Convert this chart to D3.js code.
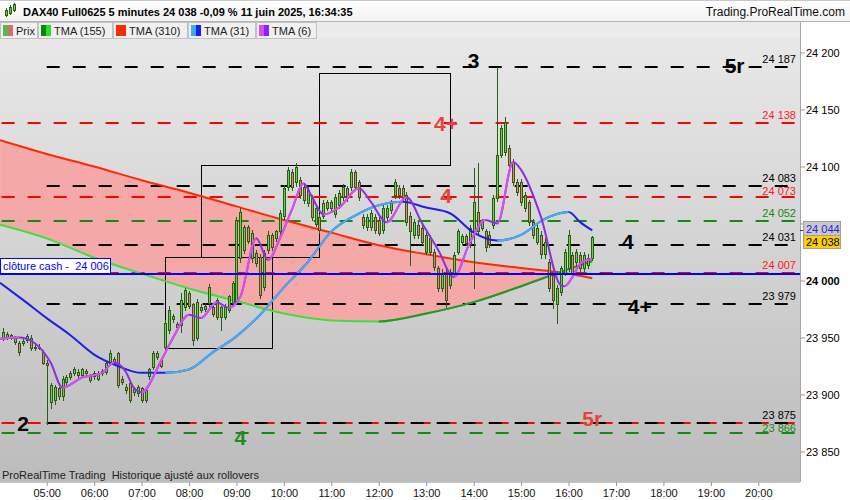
<!DOCTYPE html>
<html><head><meta charset="utf-8">
<script src="https://cdn.jsdelivr.net/npm/d3@7"></script>
<style>
body{margin:0;background:#fff;}
svg{display:block;font-family:"Liberation Sans",Arial,sans-serif;}
</style>
</head><body>
<svg id="c" width="850" height="500"></svg>
<script>
// ---------------- DATA ----------------
const barStartMinute = 245;   // 04:05
const barMinutes = 5;
const open = [23950,23950,23952,23946,23945,23945,23948,23950,23942,23941,
 23937,23928,23893,23895,23906,23899,23911,23919,23919,23920,
 23917,23921,23916,23916,23914,23919,23920,23928,23931,23936,
 23911,23907,23910,23902,23901,23906,23895,23916,23924,23933,
 23930,23942,23957,23966,23962,23961,23977,23989,23979,23950,
 23977,23975,23980,23977,23983,23968,23968,23974,23980,23981,
 24020,24027,24047,24020,24024,24021,23994,24027,24040,24037,
 24043,24057,24082,24095,24086,24088,24082,24068,24073,24050,
 24056,24057,24069,24064,24058,24066,24073,24081,24082,24095,
 24086,24056,24047,24047,24056,24053,24044,24056,24062,24075,
 24081,24081,24075,24057,24040,24049,24046,24025,24037,24025,
 24011,23993,24007,23996,24007,24025,24034,24039,24032,24043,
 24060,24046,24043,24040,24049,24072,24110,24113,24116,24104,
 24086,24086,24064,24069,24051,24034,24040,24023,24016,24005,
 23979,23990,24007,24011,24022,24016,24022,24011,24014,24020];
const high = [23958,23955,23953,23951,23947,23949,23953,23952,23944,23944,
 23939,23930,23910,23908,23907,23916,23917,23921,23924,23922,
 23923,23922,23918,23921,23921,23922,23929,23939,23933,23937,
 23916,23909,23912,23907,23908,23907,23906,23923,23938,23938,
 23932,23965,23978,23971,23964,23989,23993,23991,23980,23984,
 23979,23980,23997,23978,23985,23978,23979,23987,24000,24056,
 24064,24049,24049,24044,24027,24023,24027,24043,24042,24044,
 24062,24084,24100,24098,24103,24091,24084,24082,24075,24067,
 24058,24071,24071,24071,24076,24079,24085,24083,24098,24097,
 24088,24058,24058,24062,24058,24056,24067,24066,24071,24089,
 24084,24084,24078,24060,24054,24051,24049,24043,24040,24028,
 24013,24010,24010,24010,24025,24045,24041,24041,24049,24099,
 24103,24054,24045,24043,24075,24187,24136,24143,24119,24107,
 24089,24089,24078,24071,24054,24049,24043,24037,24019,24007,
 23996,24013,24028,24044,24025,24028,24025,24025,24023,24039];
const low = [23948,23949,23949,23944,23935,23943,23946,23939,23939,23940,
 23927,23874,23888,23892,23896,23895,23908,23914,23917,23915,
 23915,23917,23911,23914,23913,23917,23918,23926,23927,23907,
 23909,23901,23893,23900,23899,23893,23893,23914,23922,23931,
 23924,23940,23954,23964,23957,23955,23974,23976,23943,23948,
 23972,23973,23978,23969,23966,23957,23966,23972,23978,23979,
 24016,24024,24033,24016,24013,23985,23992,24024,24027,24035,
 24040,24054,24079,24079,24083,24072,24068,24065,24053,24048,
 24042,24055,24062,24061,24056,24064,24071,24070,24079,24079,
 24071,24046,24044,24044,24042,24040,24042,24053,24059,24072,
 24072,24070,24049,24014,24037,24037,24032,24023,24023,24009,
 23991,23991,23977,23993,24005,24023,24032,24031,24029,23993,
 24040,24044,24026,24029,24046,24070,24108,24110,24099,24084,
 24075,24066,24061,24049,24037,24032,24020,24020,23991,23976,
 23963,23987,24005,24008,24005,24013,24008,24008,24011,24018];
const close = [23955,23953,23950,23950,23937,23947,23951,23941,23941,23942,
 23928,23926,23908,23907,23899,23914,23915,23915,23922,23917,
 23922,23919,23913,23919,23919,23921,23928,23936,23928,23908,
 23914,23904,23895,23905,23907,23895,23904,23922,23936,23936,
 23925,23963,23974,23969,23959,23983,23992,23978,23948,23981,
 23974,23978,23994,23971,23968,23977,23977,23986,23998,24053,
 24060,24047,24035,24042,24015,23987,24024,24040,24029,24043,
 24059,24081,24097,24082,24100,24075,24071,24079,24056,24064,
 24044,24068,24064,24069,24073,24077,24082,24072,24095,24082,
 24073,24049,24056,24059,24044,24042,24064,24064,24068,24086,
 24075,24072,24051,24043,24051,24040,24034,24040,24025,24012,
 23993,24007,23983,24007,24022,24043,24039,24033,24046,24069,
 24043,24051,24029,24032,24072,24110,24134,24139,24101,24086,
 24078,24069,24075,24051,24040,24046,24023,24034,23993,23983,
 23993,24011,24025,24040,24007,24025,24011,24022,24020,24038];

// moving averages (minute of day -> value)
const slowTimes = [241,300,360,420,480,540,600,660,720,780,840,900,960,990];
const tma310 = [24123,24111,24100,24088,24077,24065,24053,24042,24031,24023,24016,24011,24006,24002];
const tma155 = [24049,24037,24020,24006,23993,23982,23971,23965,23964,23971,23981,23995,24010,24017];
const tma31Times = [241,270,300,330,360,390,420,450,480,510,540,570,600,630,660,690,720,750,780,810,840,870,900,930,960,975,990];
const tma31 = [23998,23983,23967,23952,23935,23925,23919,23919,23922,23937,23951,23970,23994,24016,24043,24057,24066,24069,24064,24059,24042,24035,24040,24054,24060,24051,24044];
const tma6Times = [241,265,285,305,320,345,370,385,400,410,420,445,460,480,495,515,530,545,565,580,595,610,625,635,650,670,695,710,730,755,775,795,815,835,855,870,890,900,925,950,955,965,975,990];
const tma6 = [23949,23950,23945,23928,23906,23915,23919,23928,23920,23906,23902,23930,23950,23970,23967,23981,23976,23986,24037,24018,24037,24062,24085,24074,24058,24064,24081,24069,24051,24073,24050,24027,24003,24033,24053,24050,24104,24097,24056,23996,23995,24003,24015,24019];

// horizontal levels
const levelsRed = [24138,24073,24007,23875];
const levelsGreen = [24052,23866];
const levelsBlack = [24187,24083,24031,23979,23875];
const cashClose = 24006;
const lastPrice = 24038;
const lastTma31 = 24044;

// boxes
const boxStart = [450,495,645];
const boxEnd   = [585,645,810];
const boxLow   = [23941,24021,24101];
const boxHigh  = [24021,24101,24182];

// annotations (centre time, centre price)
const annotText  = ["2","4","3","5r","4+","4","4","4+","5r"];
const annotTime  = [270,545,840,1170,805,805,1035,1050,990];
const annotPrice = [23875,23862,24193,24189,24138,24075,24034,23977,23879];
const annotGroup = ["black","green","black","black","red","red","black","black","red"];

// axes
const hourTicks = [300,360,420,480,540,600,660,720,780,840,900,960,1020,1080,1140,1200];
const hourLabels = ["05:00","06:00","07:00","08:00","09:00","10:00","11:00","12:00","13:00","14:00","15:00","16:00","17:00","18:00","19:00","20:00"];
const priceTicks = [23850,23900,23950,24000,24050,24100,24150,24200];

// ---------------- DRAW ----------------
const svg = d3.select("#c");
const defs = svg.append("defs");
const W = 850, H = 500;
const PL = 0, PR = 800, PT = 39, PB = 482;

const x = d3.scaleLinear().domain([300,1200]).range([46.7,758.3]);
const y = d3.scaleLinear().domain([23850,24200]).range([451.5,52.5]);
const fr = d3.formatLocale({decimal:",",thousands:" ",grouping:[3],currency:["","€"]});
const fmt = fr.format(",d");

const bg = defs.append("linearGradient").attr("id","bg").attr("x1",0).attr("x2",0).attr("y1",0).attr("y2",1);
bg.append("stop").attr("offset","0%").attr("stop-color","#e8e8e8");
bg.append("stop").attr("offset","100%").attr("stop-color","#bcbcbc");
const hg = defs.append("linearGradient").attr("id","hg").attr("x1",0).attr("x2",0).attr("y1",0).attr("y2",1);
hg.append("stop").attr("offset","0%").attr("stop-color","#ffffff");
hg.append("stop").attr("offset","100%").attr("stop-color","#f2f2f2");

defs.append("clipPath").attr("id","plotClip").append("rect")
  .attr("x",PL).attr("y",PT).attr("width",PR-PL).attr("height",PB-PT);

svg.append("rect").attr("width",W).attr("height",H).attr("fill","#fff");
svg.append("rect").attr("x",PL).attr("y",PT).attr("width",PR-PL).attr("height",PB-PT).attr("fill","url(#bg)");

const plot = svg.append("g").attr("clip-path","url(#plotClip)");

// ---- fill between TMA310 and TMA155 ----
const slowPts = slowTimes.map((t,i)=>({t, r:tma310[i], g:tma155[i]}));
const curve = d3.curveMonotoneX;
const aboveGreen = d3.area().curve(curve).x(d=>x(d.t)).y0(0).y1(d=>y(d.g));
const aboveRed = d3.area().curve(curve).x(d=>x(d.t)).y0(0).y1(d=>y(d.r));
defs.append("clipPath").attr("id","cAboveGreen").append("path").attr("d",aboveGreen(slowPts));
defs.append("clipPath").attr("id","cAboveRed").append("path").attr("d",aboveRed(slowPts));
const belowRed = d3.area().curve(curve).x(d=>x(d.t)).y0(d=>y(d.r)).y1(H);
const belowGreen = d3.area().curve(curve).x(d=>x(d.t)).y0(d=>y(d.g)).y1(H);
plot.append("g").attr("clip-path","url(#cAboveGreen)").append("path")
  .attr("d",belowRed(slowPts)).attr("fill","#f4a8a8");
plot.append("g").attr("clip-path","url(#cAboveRed)").append("path")
  .attr("d",belowGreen(slowPts)).attr("fill","rgba(150,215,150,0.35)");

// ---- boxes ----
boxStart.forEach((b,i)=>{
  const x0 = Math.round(x(boxStart[i]))+0.5, x1 = Math.round(x(boxEnd[i]))+0.5;
  const y0 = Math.round(y(boxHigh[i]))+0.5, y1 = Math.round(y(boxLow[i]))+0.5;
  plot.append("rect").attr("x",x0).attr("y",y0).attr("width",x1-x0).attr("height",y1-y0)
    .attr("fill","none").attr("stroke","#000").attr("stroke-width",1);
});

// ---- dashed levels ----
const lvlEnd = 1246;
function level(v, color, startT){
  const yy = Math.round(y(v));
  plot.append("line").attr("x1",x(startT)).attr("x2",x(lvlEnd)).attr("y1",yy).attr("y2",yy)
    .attr("stroke",color).attr("stroke-width",2).attr("stroke-dasharray","13,13");
}
levelsGreen.forEach(v=>level(v,"#138a13",243));
levelsRed.forEach(v=>level(v,"#ff0000",243));
levelsBlack.forEach(v=>level(v,"#000000",300));

// ---- MA lines (color depends on direction) ----
let clipN = 0;
function maLine(times, vals, fallColor, riseColor){
  const pts = times.map((t,i)=>[x(t), y(vals[i])]);
  const d = d3.line().curve(d3.curveMonotoneX)(pts);
  const id = "ma"+(clipN++);
  const cp = defs.append("clipPath").attr("id",id);
  for(let k=0;k<pts.length-1;k++){
    if(vals[k+1] > vals[k]) cp.append("rect").attr("x",pts[k][0]).attr("y",0)
      .attr("width",pts[k+1][0]-pts[k][0]).attr("height",H);
  }
  plot.append("path").attr("d",d).attr("fill","none").attr("stroke",fallColor).attr("stroke-width",2);
  plot.append("g").attr("clip-path",`url(#${id})`).append("path").attr("d",d)
    .attr("fill","none").attr("stroke",riseColor).attr("stroke-width",2);
}
maLine(slowTimes, tma310, "#ff2a00", "#ff2a00");
maLine(slowTimes, tma155, "#3ee03a", "#2c922c");

// ---- candles ----
const cg = plot.append("g").attr("shape-rendering","crispEdges");
close.forEach((c,i)=>{
  const t = barStartMinute + barMinutes*i;
  const cx = Math.round(x(t));
  const o = open[i];
  cg.append("line").attr("x1",cx+0.5).attr("x2",cx+0.5)
    .attr("y1",Math.round(y(high[i]))).attr("y2",Math.round(y(low[i]))+1)
    .attr("stroke","#2b5c17").attr("stroke-width",1);
  const yt = Math.round(y(Math.max(o,c))), yb = Math.round(y(Math.min(o,c)));
  cg.append("rect").attr("x",cx-0.5).attr("y",yt+0.5).attr("width",2).attr("height",Math.max(1,yb-yt))
    .attr("fill", c>=o ? "#5fd83e" : "#e8836c").attr("stroke","#2b5c17").attr("stroke-width",1);
});

maLine(tma31Times, tma31, "#1f1fe8", "#45b2ee");
maLine(tma6Times, tma6, "#8d2ee6", "#dc4cf2");

// ---- cash close line ----
const yc = Math.round(y(cashClose));
plot.append("line").attr("x1",0).attr("x2",PR).attr("y1",yc).attr("y2",yc)
  .attr("stroke","#0000ff").attr("stroke-width",2);

// ---- level labels (one per distinct value, pushed apart when too close) ----
const lblItems = [];
const seen = new Set();
function addLbl(v,color){ if(seen.has(v)) return; seen.add(v); lblItems.push({v,color,by:Math.round(y(v))-4}); }
levelsBlack.forEach(v=>addLbl(v,"#000"));
levelsGreen.forEach(v=>addLbl(v,"#138a13"));
levelsRed.forEach(v=>addLbl(v,"#ff1a1a"));
lblItems.sort((a,b)=>a.by-b.by);
for(let i=1;i<lblItems.length;i++){
  if(lblItems[i].by - lblItems[i-1].by < 13) lblItems[i].by = lblItems[i-1].by + 13;
}
const lblG = plot.append("g").attr("font-size","11px").attr("text-anchor","end");
lblItems.forEach(l=>lblG.append("text").attr("x",796).attr("y",l.by).attr("fill",l.color).text(fmt(l.v)));

// ---- annotations ----
const annColor = {black:"#000", red:"#e8413a", green:"#1e8c1e"};
annotText.forEach((s,i)=>{
  plot.append("text").attr("x",x(annotTime[i])).attr("y",y(annotPrice[i])+7.5)
    .attr("text-anchor","middle").attr("font-size","21px").attr("font-weight","bold")
    .attr("fill",annColor[annotGroup[i]]).text(s);
});

// ---- clôture cash label ----
plot.append("rect").attr("x",0.5).attr("y",yc-15.5).attr("width",110).attr("height",15)
  .attr("fill","#fff").attr("stroke","#0000ff").attr("stroke-width",1);
plot.append("text").attr("x",3).attr("y",yc-4).attr("font-size","11px").attr("fill","#0000ff")
  .attr("xml:space","preserve").text("clôture cash -  " + fmt(cashClose));

svg.append("text").attr("x",2).attr("y",479).attr("font-size","11px").attr("fill","#222")
  .attr("xml:space","preserve").text("ProRealTime Trading  Historique ajusté aux rollovers");

// ---- axes ----
svg.append("line").attr("x1",PR+0.5).attr("x2",PR+0.5).attr("y1",22).attr("y2",PB).attr("stroke","#a8a8a8");
svg.append("line").attr("x1",PL).attr("x2",PR).attr("y1",PB+0.5).attr("y2",PB+0.5).attr("stroke","#c8c8c8");

const ya = svg.append("g").attr("transform",`translate(${PR},0)`)
  .call(d3.axisRight(y).tickValues(priceTicks).tickSize(5).tickPadding(1).tickFormat(fmt));
ya.select(".domain").remove();
ya.selectAll("line").attr("stroke","#999");
ya.selectAll("text").attr("font-size","11px").attr("fill","#000")
  .attr("font-family","Liberation Sans, Arial, sans-serif")
  .attr("font-weight",d=>d===24000?"bold":"normal")
  .filter(d=>Math.abs(d-lastTma31) < 10).remove();   // hidden behind the value boxes

const xa = svg.append("g").attr("transform",`translate(0,${PB})`)
  .call(d3.axisBottom(x).tickValues(hourTicks).tickSize(4).tickPadding(3).tickFormat((d,i)=>hourLabels[i]));
xa.select(".domain").remove();
xa.selectAll("line").attr("stroke","#999");
xa.selectAll("text").attr("font-size","11px").attr("fill","#111")
  .attr("font-family","Liberation Sans, Arial, sans-serif");

// value boxes on axis
const yb31 = y(lastTma31);
svg.append("line").attr("x1",PR).attr("x2",PR+4).attr("y1",Math.round(yb31)+0.5).attr("y2",Math.round(yb31)+0.5).attr("stroke","#1f1fe8");
svg.append("rect").attr("x",803.5).attr("y",Math.round(yb31)-8.5).attr("width",37).attr("height",14)
  .attr("fill","#c9c9c9").attr("stroke","#a0a0a0");
svg.append("text").attr("x",806).attr("y",Math.round(yb31)+3).attr("font-size","11px").attr("fill","#1f1fe8").text(fmt(lastTma31));
const ylp = y(lastPrice);
svg.append("rect").attr("x",803.5).attr("y",Math.round(ylp)-1.5).attr("width",37).attr("height",13)
  .attr("fill","#ffcf00").attr("stroke","#a0a0a0");
svg.append("text").attr("x",806).attr("y",Math.round(ylp)+9).attr("font-size","11px").attr("fill","#000").text(fmt(lastPrice));

// ---- header ----
svg.append("rect").attr("x",0).attr("y",0).attr("width",W).attr("height",21).attr("fill","url(#hg)");
svg.append("line").attr("x1",0).attr("x2",W).attr("y1",0.5).attr("y2",0.5).attr("stroke","#c8c8c8");
svg.append("line").attr("x1",0).attr("x2",W).attr("y1",21.5).attr("y2",21.5).attr("stroke","#b4b4b4");
svg.append("rect").attr("x",0).attr("y",22).attr("width",PR).attr("height",17).attr("fill","#ececec");
const icon = svg.append("g").attr("shape-rendering","crispEdges");
[[6,10,15,8,17],[10,7,13,5,15],[14,4,10,3,12]].forEach(a=>{
  icon.append("line").attr("x1",a[0]+0.5).attr("x2",a[0]+0.5).attr("y1",a[3]).attr("y2",a[4]).attr("stroke","#2b5c17");
  icon.append("rect").attr("x",a[0]-0.5).attr("y",a[1]+0.5).attr("width",2).attr("height",a[2]-a[1]).attr("fill","#5fd83e").attr("stroke","#2b5c17");
});
svg.append("text").attr("x",23).attr("y",16).attr("font-size","11px").attr("font-weight","bold").attr("fill","#000")
  .text("DAX40 Full0625 5 minutes 24 038 -0,09 % 11 juin 2025, 16:34:35");
svg.append("text").attr("x",845).attr("y",16).attr("font-size","12px").attr("text-anchor","end").attr("fill","#111")
  .text("Trading.ProRealTime.com");

const legNames = ["Prix","TMA (155)","TMA (310)","TMA (31)","TMA (6)"];
const legColA = ["#4fbf4f","#0c850c","#ff2a00","#3aaeec","#d84cf0"];
const legColB = ["#e06a6a","#22e022","#ff2a00","#1a1aff","#8a22ff"];
const legX = [0,38,113,188,256,317];
const lg = svg.append("g").attr("shape-rendering","crispEdges");
legNames.forEach((n,i)=>{
  const x0 = legX[i], x1 = legX[i+1];
  lg.append("rect").attr("x",x0+0.5).attr("y",22.5).attr("width",x1-x0-1).attr("height",16)
    .attr("fill","#f0f0f0").attr("stroke","#c2c2c2");
  lg.append("rect").attr("x",x0+3).attr("y",25).attr("width",5).attr("height",11).attr("fill",legColA[i]);
  lg.append("rect").attr("x",x0+8).attr("y",25).attr("width",5).attr("height",11).attr("fill",legColB[i]);
  svg.append("text").attr("x",x0+16).attr("y",34.5).attr("font-size","11px").attr("fill","#222").text(n);
});
</script>
</body></html>
